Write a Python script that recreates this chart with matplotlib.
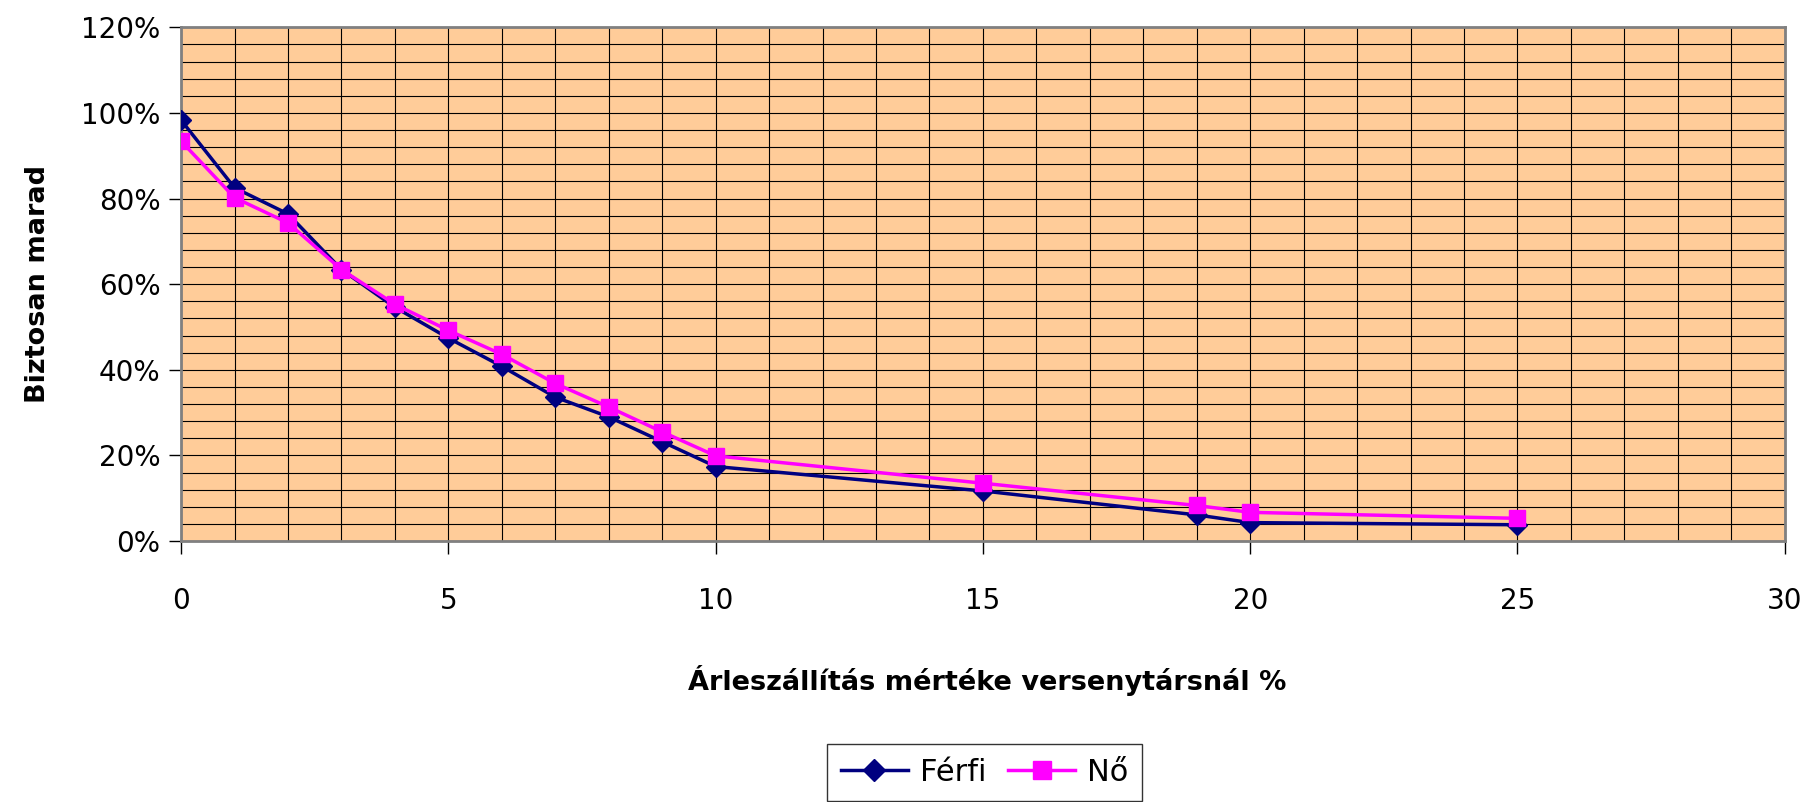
import matplotlib
matplotlib.use("Agg")
from matplotlib import pyplot as plt
from matplotlib.ticker import MultipleLocator, FuncFormatter

# discount of competitor (%)
x_values = [0, 1, 2, 3, 4, 5, 6, 7, 8, 9, 10, 15, 19, 20, 25]
ferfi = [98.3, 82.5, 76.4, 63.4, 54.6, 47.4, 40.8, 33.6, 29.0, 23.2, 17.4, 11.7, 6.1, 4.3, 3.8]
no = [93.4, 80.2, 74.3, 63.4, 55.3, 49.2, 43.6, 36.8, 31.3, 25.5, 19.9, 13.5, 8.3, 6.7, 5.3]

series_names = ["Férfi", "Nő"]
x_label = "Árleszállítás mértéke versenytársnál %"
y_label = "Biztosan marad"

fig = plt.figure(figsize=(18.11, 8.02), dpi=100)
ax = fig.add_axes([0.100, 0.3254, 0.8855, 0.6406])
ax.set_facecolor("#FFCC99")

ax.plot(x_values, ferfi, color="#000080", lw=2.5, marker="D", ms=10, label=series_names[0], zorder=3)
ax.plot(x_values, no, color="#FF00FF", lw=2.5, marker="s", ms=12, label=series_names[1], zorder=4)

ax.set_xlim(0, 30)
ax.set_ylim(0, 120)
ax.xaxis.set_major_locator(MultipleLocator(5))
ax.xaxis.set_minor_locator(MultipleLocator(1))
ax.yaxis.set_major_locator(MultipleLocator(20))
ax.yaxis.set_minor_locator(MultipleLocator(4))
ax.yaxis.set_major_formatter(FuncFormatter(lambda v, p: f"{v:.0f}%"))

ax.grid(which="both", color="black", lw=0.8, zorder=1)
ax.set_axisbelow(True)
ax.tick_params(which="major", direction="out", length=9, width=1, labelsize=20, pad=24, axis="x")
ax.tick_params(which="major", direction="out", length=9, width=1, labelsize=20, pad=6, axis="y")
ax.tick_params(which="minor", length=0)

for s in ax.spines.values():
    s.set_color("#808080")
    s.set_linewidth(2)

fig.text(0.545, 0.151, x_label, ha="center", va="center", fontsize=19.5, fontweight="bold")
fig.text(0.021, 0.646, y_label, ha="center", va="center", fontsize=19.5, fontweight="bold", rotation=90)

leg = fig.legend(loc="center", bbox_to_anchor=(0.5437, 0.0370), ncol=2, fontsize=22,
                 frameon=True, fancybox=False, edgecolor="black", handlelength=2.2,
                 columnspacing=0.7, handletextpad=0.4, borderpad=0.45, markerscale=1.1)
leg.get_frame().set_linewidth(1)

fig.savefig("out.png", dpi=100)
